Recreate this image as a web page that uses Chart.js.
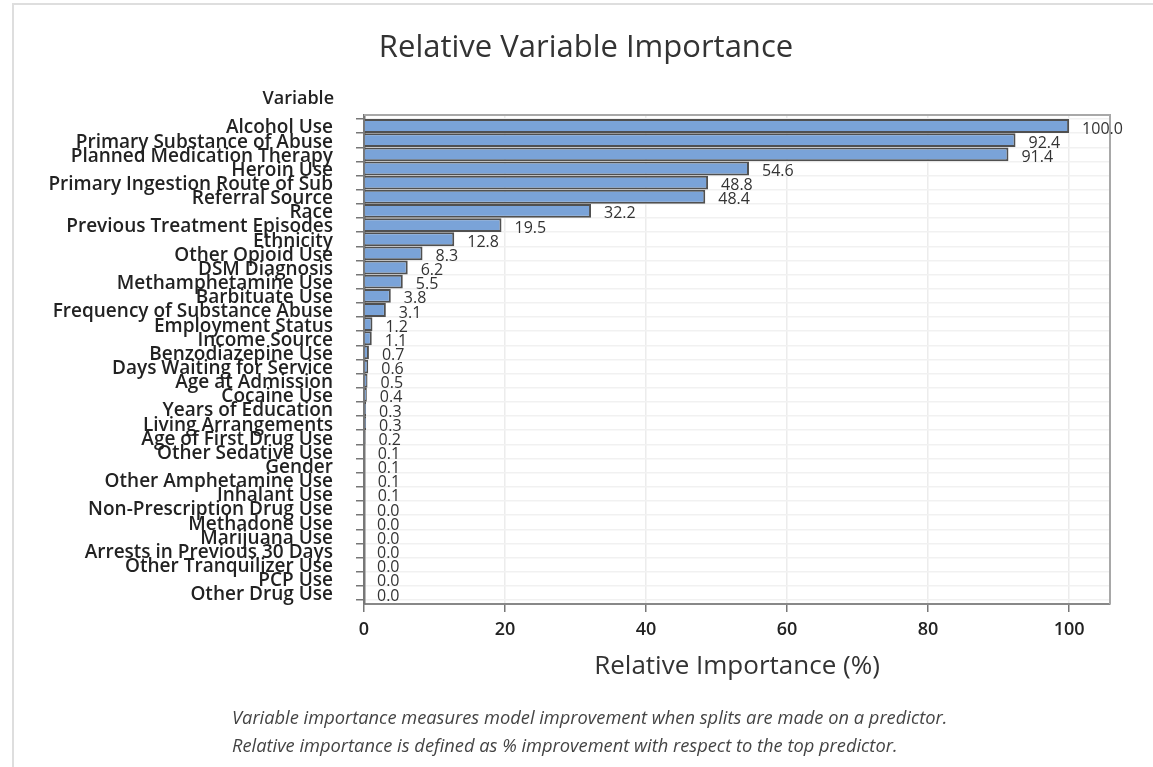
<!DOCTYPE html>
<html>
<head>
<meta charset="utf-8">
<script src="https://cdn.jsdelivr.net/npm/chart.js@4"></script>
<style>
  body { margin: 0; background: #fff; font-family: "Open Sans", sans-serif; }
  #frame { position: absolute; left: 12px; top: 3px; width: 1141px; height: 764px;
           border-top: 2px solid #dedede; border-left: 2px solid #dedede; }
  #chartTitle { position: absolute; left: 586px; top: 24px; transform: translateX(-50%);
                white-space: nowrap; font-size: 31px; color: #333; }
  #varHead { position: absolute; right: 819px; top: 85px; font-size: 18px; font-weight: 600; color: #222; }
  .note { position: absolute; left: 232px; font-size: 18.3px; font-style: italic; color: #444; white-space: nowrap; }
  #wrap { position: absolute; left: 0; top: 0; width: 1153px; height: 767px; }
</style>
</head>
<body>
<div id="frame"></div>
<div id="wrap"><canvas id="importanceChart" width="1153" height="767"></canvas></div>
<div id="chartTitle">Relative Variable Importance</div>
<div id="varHead">Variable</div>
<div class="note" style="top:704px">Variable importance measures model improvement when splits are made on a predictor.</div>
<div class="note" style="top:732px">Relative importance is defined as % improvement with respect to the top predictor.</div>
<script>
// Variables, de haut en bas
const variables = [
  "Alcohol Use", "Primary Substance of Abuse", "Planned Medication Therapy", "Heroin Use",
  "Primary Ingestion Route of Sub", "Referral Source", "Race", "Previous Treatment Episodes",
  "Ethnicity", "Other Opioid Use", "DSM Diagnosis", "Methamphetamine Use", "Barbituate Use",
  "Frequency of Substance Abuse", "Employment Status", "Income Source", "Benzodiazepine Use",
  "Days Waiting for Service", "Age at Admission", "Cocaine Use", "Years of Education",
  "Living Arrangements", "Age of First Drug Use", "Other Sedative Use", "Gender",
  "Other Amphetamine Use", "Inhalant Use", "Non-Prescription Drug Use", "Methadone Use",
  "Marijuana Use", "Arrests in Previous 30 Days", "Other Tranquilizer Use", "PCP Use",
  "Other Drug Use"
];

// Importance relative (%)
const importance = [
  100.0, 92.4, 91.4, 54.6, 48.8, 48.4, 32.2, 19.5, 12.8, 8.3, 6.2, 5.5, 3.8, 3.1,
  1.2, 1.1, 0.7, 0.6, 0.5, 0.4, 0.3, 0.3, 0.2, 0.1, 0.1, 0.1, 0.1,
  0.0, 0.0, 0.0, 0.0, 0.0, 0.0, 0.0
];

const xTicks = [0, 20, 40, 60, 80, 100];

// cadre gris autour de la zone de tracé
const plotFrame = {
  id: "plotFrame",
  beforeDatasetsDraw(chart) {
    const { ctx, chartArea: a } = chart;
    ctx.save();
    ctx.strokeStyle = "#a8a8a8";
    ctx.lineWidth = 2;
    ctx.beginPath();
    ctx.moveTo(a.left, a.top);
    ctx.lineTo(a.right, a.top);
    ctx.lineTo(a.right, a.bottom);
    ctx.stroke();
    ctx.restore();
  }
};

// étiquettes de valeur à droite des barres
const valueLabels = {
  id: "valueLabels",
  afterDatasetsDraw(chart) {
    const ctx = chart.ctx;
    const meta = chart.getDatasetMeta(0);
    ctx.save();
    ctx.font = '16px "Open Sans"';
    ctx.fillStyle = "#333";
    ctx.textAlign = "left";
    ctx.textBaseline = "middle";
    meta.data.forEach((bar, i) => {
      ctx.fillText(importance[i].toFixed(1), bar.x + 13, bar.y + 3);
    });
    ctx.restore();
  }
};

const ctx = document.getElementById("importanceChart").getContext("2d");

new Chart(ctx, {
  type: "bar",
  data: {
    datasets: [{
      data: importance.map((v, i) => ({ x: v, y: i })),
      backgroundColor: "#7aa3d8",
      borderColor: "#505050",
      borderWidth: 2,
      barPercentage: 0.98,
      categoryPercentage: 1
    }]
  },
  options: {
    indexAxis: "y",
    responsive: false,
    animation: false,
    devicePixelRatio: 1,
    layout: { padding: { top: 115, right: 43, bottom: 0, left: 0 } },
    plugins: { legend: { display: false }, tooltip: { enabled: false } },
    scales: {
      x: {
        type: "linear",
        position: "bottom",
        min: 0,
        max: 105.8,
        afterBuildTicks: (s) => { s.ticks = xTicks.map((v) => ({ value: v })); },
        afterFit: (s) => { s.height = 163; },
        ticks: { font: { family: "Open Sans", size: 18, weight: "600" }, color: "#222", padding: 7 },
        grid: { color: "#ececec", lineWidth: 1.5, tickLength: 8, tickColor: "#777", tickWidth: 1.5 },
        border: { color: "#888", width: 2 },
        title: {
          display: true,
          text: "Relative Importance (%)",
          font: { family: "Open Sans", size: 26 },
          color: "#333",
          padding: { top: 0, bottom: 85 }
        }
      },
      y: {
        type: "linear",
        position: "left",
        offset: false,
        min: -0.78,
        max: 33.78,
        reverse: true,
        afterBuildTicks: (s) => { s.ticks = variables.map((_, i) => ({ value: i })); },
        afterFit: (s) => { s.width = 364; },
        ticks: {
          callback: (v) => variables[v],
          autoSkip: false,
          font: { family: "Open Sans", size: 19, weight: "600", lineHeight: 1 },
          color: "#222",
          padding: 23,
          labelOffset: 2
        },
        grid: { color: "#f1f1f1", lineWidth: 1.5, tickLength: 8, tickColor: "#777", tickWidth: 1.5 },
        border: { color: "#777", width: 2.5 }
      }
    }
  },
  plugins: [plotFrame, valueLabels]
});
</script>
</body>
</html>
